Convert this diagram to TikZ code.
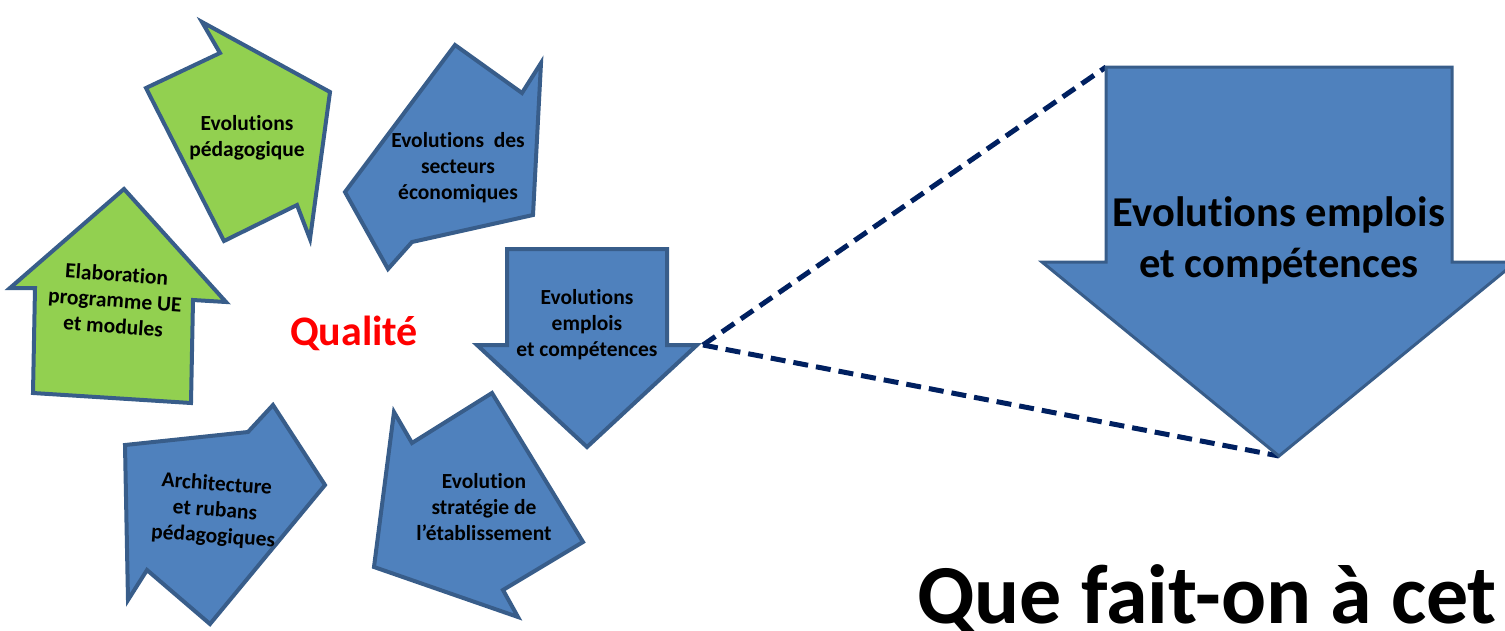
\documentclass[tikz,border=0pt]{standalone}
\usepackage{fontspec}
\setmainfont{Carlito}[Ligatures=NoCommon]
\definecolor{bluef}{HTML}{4F81BD}
\definecolor{bordc}{HTML}{385D8A}
\definecolor{greenf}{HTML}{92D050}
\definecolor{navy}{HTML}{002060}
\begin{document}
\begin{tikzpicture}[x=1pt,y=-1pt,
  arr/.style={draw=bordc, line width=4pt, line join=miter, miter limit=20, fill=bluef},
  garr/.style={arr, fill=greenf},
  lbl/.style={font=\fontsize{21.5}{26}\selectfont\bfseries, align=center, text=black, inner sep=0pt},
  link/.style={draw=navy, line width=5pt, dash pattern=on 15pt off 8pt}]
\useasboundingbox (0,0) rectangle (1505,630);
% green: Evolutions pedagogique
\draw[garr] (202,22) -- (220,53) -- (146,88) -- (224,241) -- (297,205) -- (310,239) -- (330,92) -- cycle;
\node[lbl] (tped) at (247,138) {Evolutions\\pédagogique};
% green: Elaboration
\draw[garr] (124,189) -- (226,302) -- (193,300) -- (191,403) -- (33,393) -- (35,288) -- (10,288) -- cycle;
\node[lbl, rotate=-4] (telab) at (115,300) {Elaboration\\programme UE\\et modules};
% blue: secteurs
\draw[arr] (455,45) -- (522,93) -- (541,63) -- (533,215) -- (412,242) -- (388,269) -- (345,192) -- cycle;
\node[lbl] (tsect) at (458,168) {Evolutions\ \ des\\secteurs\\économiques};
% blue: emplois (small)
\coordinate (sR) at (697,345);
\draw[arr] (507,249) -- (667,249) -- (667,345) -- (sR) -- (587,447) -- (477,345) -- (507,345) -- cycle;
\node[lbl] (templ) at (587,325) {Evolutions\\emplois\\et compétences};
% blue: strategie
\draw[arr] (492,393) -- (583,542) -- (503,590) -- (518,617) -- (374,567) -- (394,412) -- (412,443) -- cycle;
\node[lbl] (tstrat) at (484,507) {Evolution\\stratégie de\\l’établissement};
% blue: architecture
\draw[arr] (273,405) -- (248,432) -- (125,445) -- (128,600) -- (147,570) -- (210,624) -- (325,485) -- cycle;
\node[lbl, rotate=-4] (tarch) at (215,511) {Architecture\\et rubans\\pédagogiques};
% Qualite
\node[font=\fontsize{42}{50}\selectfont\bfseries, text=red, anchor=base, inner sep=0pt] (qual) at (354,345) {Qualité};
% dashed links
\coordinate (bTL) at (1106,67);
\coordinate (bTip) at (1279,456);
\coordinate (dStart) at ([xshift=6pt]sR);
\draw[link] (dStart) -- (bTL);
\draw[link] (dStart) -- (bTip);
% big arrow
\draw[arr, line width=3pt] (bTL) -- (1452,67) -- (1452,262) -- (1516,262) -- (bTip) -- (1042,262) -- (1106,262) -- cycle;
\node[font=\fontsize{42.5}{51}\selectfont\bfseries, align=center, inner sep=0pt] (tbig) at (1279,240) {Evolutions emplois\\et compétences};
% title
\node[font=\fontsize{84}{100}\selectfont\bfseries, anchor=base west, inner sep=0pt] (title) at (917,623) {Que fait-on à cet};
\end{tikzpicture}
\end{document}
